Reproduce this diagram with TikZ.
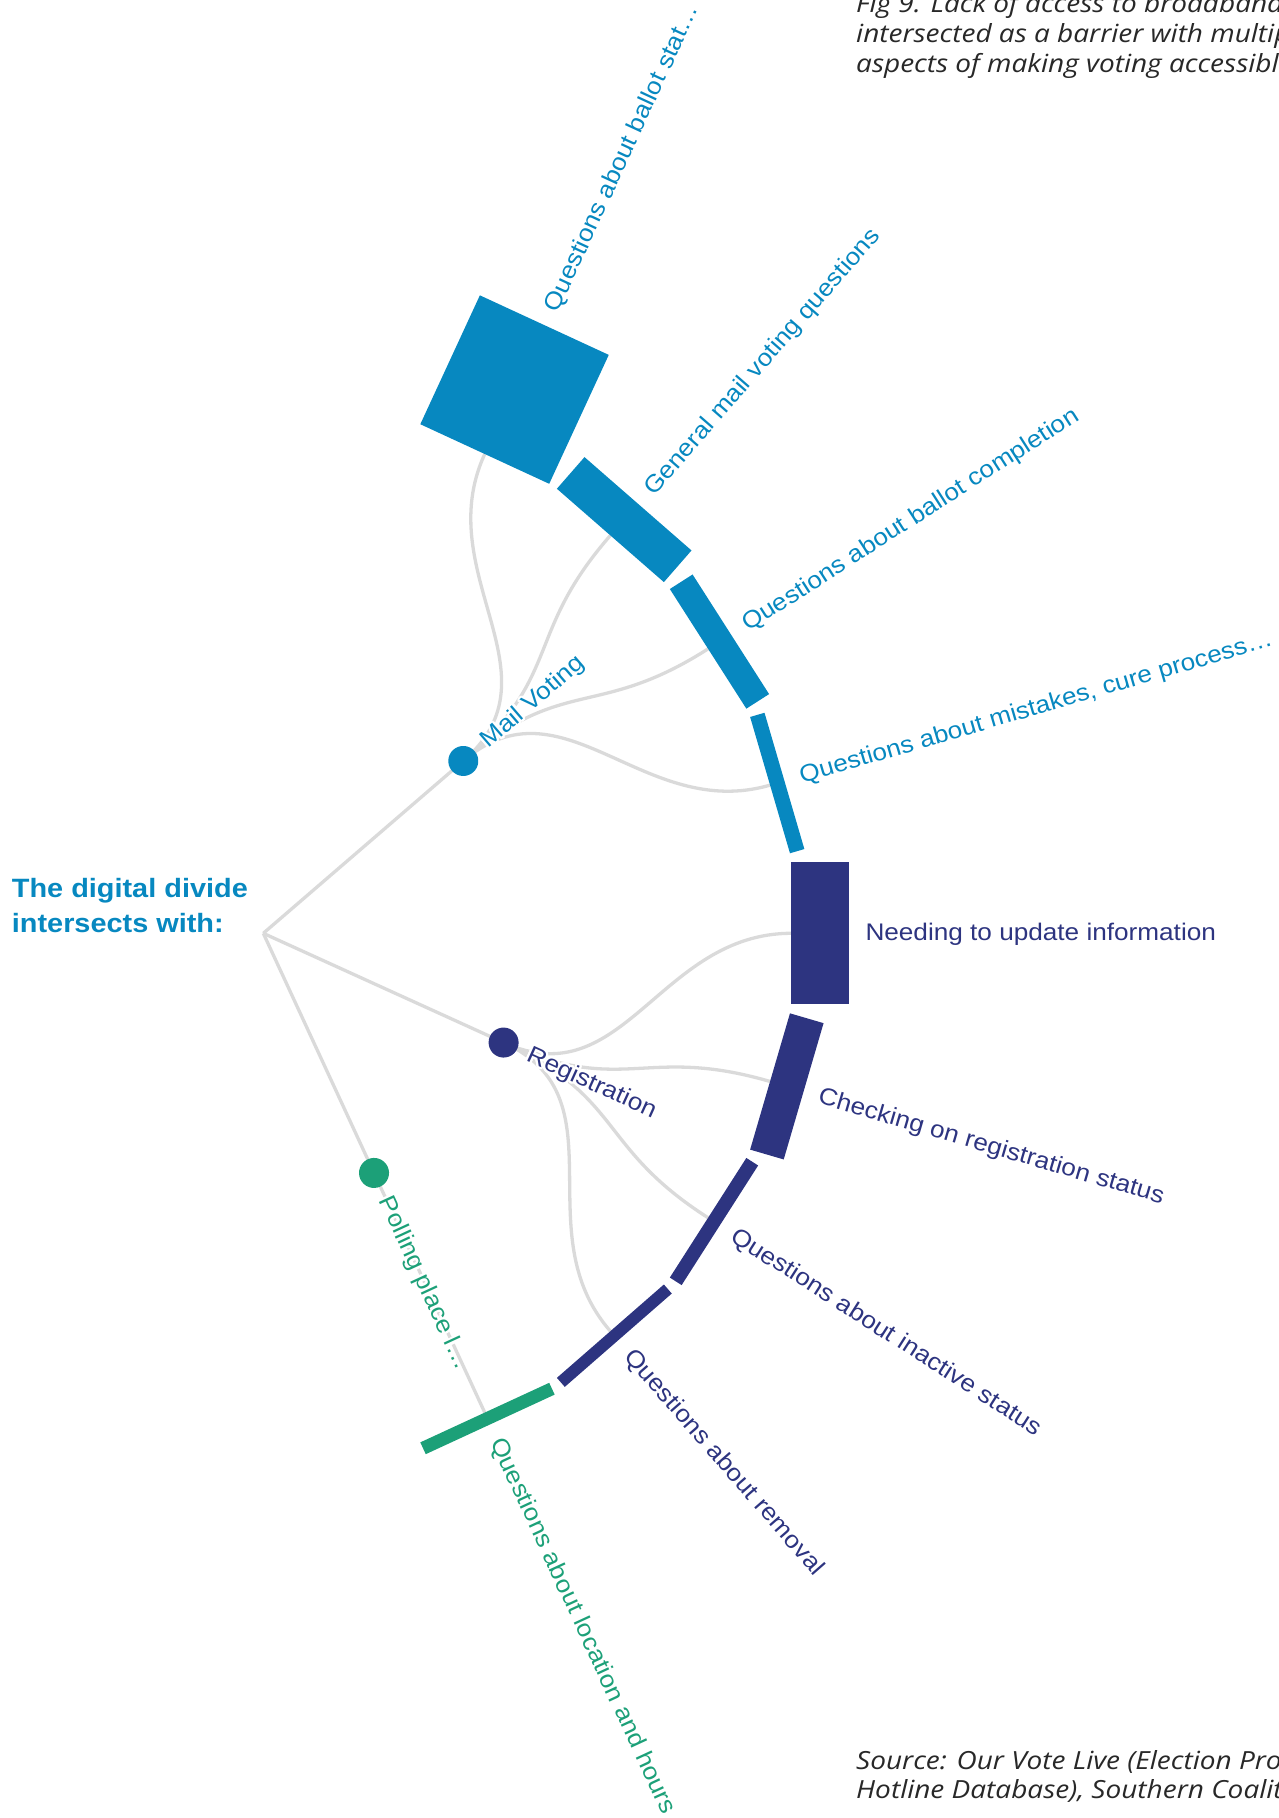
\documentclass[tikz,border=0pt]{standalone}
\usepackage{fontspec}
\setmainfont{Liberation Sans}[FakeStretch=1.09]
\newfontfamily\notefont{Open Sans}[FakeStretch=1.12]
\usepackage{contour}
\contourlength{2.2pt}
\contournumber{24}
\usetikzlibrary{backgrounds}

\definecolor{mailblue}{RGB}{7,136,192}
\definecolor{regnavy}{RGB}{45,52,128}
\definecolor{pollgreen}{RGB}{28,160,120}
\definecolor{linkgray}{RGB}{218,218,218}
\definecolor{notegray}{RGB}{40,40,40}

\tikzset{
  link/.style={draw=linkgray, line width=3.3pt},
  dot/.style={circle, inner sep=0pt, minimum size=30pt},
  leaflabel/.style={anchor=base west, inner sep=0pt, font=\fontsize{24}{29}\selectfont},
  notetext/.style={anchor=base west, inner sep=0pt, text=notegray, font=\notefont\itshape\fontsize{25}{30}\selectfont},
  titletext/.style={anchor=base west, inner sep=0pt, text=mailblue, font=\bfseries\fontsize{26.5}{35}\selectfont}
}

\begin{document}
\begin{tikzpicture}[x=1pt,y=1pt]
	\useasboundingbox (-263.3,-884.7) rectangle (1015.7,933.3);
	\coordinate (root) at (0,0);

	% notes and title
	\node[notetext] (fig1) at (592.7,920.6) {Fig 9. Lack of access to broadband has};
	\node[notetext] (fig2) at (592.7,890.6) {intersected as a barrier with multiple};
	\node[notetext] (fig3) at (592.7,860.6) {aspects of making voting accessible.};
	\node[notetext] (src1) at (592.7,-836) {Source: Our Vote Live (Election Protection};
	\node[notetext] (src2) at (592.7,-865) {Hotline Database), Southern Coalition};
	\node[titletext] (title1) at (-251.6,36) {The digital divide};
	\node[titletext] (title2) at (-251.6,0.6) {intersects with:};

	% categories
	\begin{scope}[rotate=40.75, transform shape]
		\node[dot, fill=mailblue] (mail) at (264,0) {};
		\node[leaflabel, text=mailblue] (maillabel) at (291,-7.4) {\contour{white}{Mail Voting}};
	\end{scope}
	\begin{scope}[rotate=-24.45, transform shape]
		\node[dot, fill=regnavy] (reg) at (264,0) {};
		\node[leaflabel, text=regnavy] (reglabel) at (291,-7.4) {\contour{white}{Registration}};
	\end{scope}
	\begin{scope}[rotate=-65.2, transform shape]
		\node[dot, fill=pollgreen] (poll) at (264,0) {};
		\node[leaflabel, text=pollgreen] (polllabel) at (291,-7.4) {\contour{white}{Polling place l…}};
	\end{scope}

	% questions
	\begin{scope}[rotate=65.2, transform shape]
		\fill[mailblue] (528,-71) rectangle (670,71);
		\coordinate (stat) at (528,0);
		\node[leaflabel, text=mailblue] (statlabel) at (686,-7.4) {Questions about ballot stat…};
	\end{scope}
	\begin{scope}[rotate=48.9, transform shape]
		\fill[mailblue] (528,-71) rectangle (570,71);
		\coordinate (general) at (528,0);
		\node[leaflabel, text=mailblue] (generallabel) at (586,-7.4) {General mail voting questions};
	\end{scope}
	\begin{scope}[rotate=32.6, transform shape]
		\fill[mailblue] (528,-71) rectangle (555,71);
		\coordinate (completion) at (528,0);
		\node[leaflabel, text=mailblue] (completionlabel) at (571,-7.4) {Questions about ballot completion};
	\end{scope}
	\begin{scope}[rotate=16.3, transform shape]
		\fill[mailblue] (528,-71) rectangle (543,71);
		\coordinate (mistakes) at (528,0);
		\node[leaflabel, text=mailblue] (mistakeslabel) at (559,-7.4) {Questions about mistakes, cure process…};
	\end{scope}
	\begin{scope}[rotate=0, transform shape]
		\fill[regnavy] (528,-71) rectangle (586,71);
		\coordinate (update) at (528,0);
		\node[leaflabel, text=regnavy] (updatelabel) at (602,-7.4) {Needing to update information};
	\end{scope}
	\begin{scope}[rotate=-16.3, transform shape]
		\fill[regnavy] (528,-71) rectangle (563,71);
		\coordinate (checking) at (528,0);
		\node[leaflabel, text=regnavy] (checkinglabel) at (579,-7.4) {Checking on registration status};
	\end{scope}
	\begin{scope}[rotate=-32.6, transform shape]
		\fill[regnavy] (528,-71) rectangle (542,71);
		\coordinate (inactive) at (528,0);
		\node[leaflabel, text=regnavy] (inactivelabel) at (558,-7.4) {Questions about inactive status};
	\end{scope}
	\begin{scope}[rotate=-48.9, transform shape]
		\fill[regnavy] (528,-71) rectangle (540,71);
		\coordinate (removal) at (528,0);
		\node[leaflabel, text=regnavy] (removallabel) at (556,-7.4) {Questions about removal};
	\end{scope}
	\begin{scope}[rotate=-65.2, transform shape]
		\fill[pollgreen] (528,-71) rectangle (541,71);
		\coordinate (location) at (528,0);
		\node[leaflabel, text=pollgreen] (locationlabel) at (557,-7.4) {Questions about location and hours};
	\end{scope}

	\begin{scope}[on background layer]
		\draw[link] (root) -- (mail.center);
		\draw[link] (root) -- (reg.center);
		\draw[link] (root) -- (poll.center);
		\draw[link] (mail.center) .. controls (40.75:396) and (65.2:396) .. (stat);
		\draw[link] (mail.center) .. controls (40.75:396) and (48.9:396) .. (general);
		\draw[link] (mail.center) .. controls (40.75:396) and (32.6:396) .. (completion);
		\draw[link] (mail.center) .. controls (40.75:396) and (16.3:396) .. (mistakes);
		\draw[link] (reg.center) .. controls (-24.45:396) and (0:396) .. (update);
		\draw[link] (reg.center) .. controls (-24.45:396) and (-16.3:396) .. (checking);
		\draw[link] (reg.center) .. controls (-24.45:396) and (-32.6:396) .. (inactive);
		\draw[link] (reg.center) .. controls (-24.45:396) and (-48.9:396) .. (removal);
		\draw[link] (poll.center) -- (location);
	\end{scope}
\end{tikzpicture}
\end{document}
